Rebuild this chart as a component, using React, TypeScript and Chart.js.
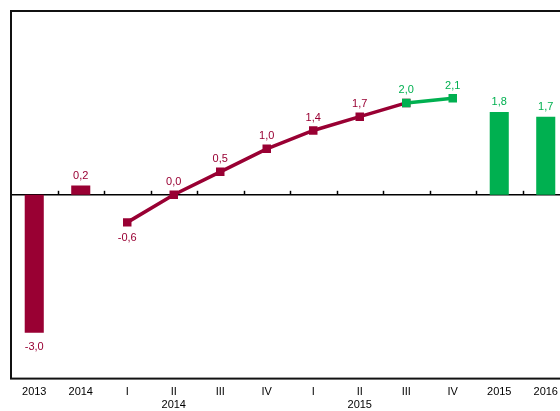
import React, { useEffect, useRef } from 'react';
import { Chart, registerables } from 'chart.js';

Chart.register(...registerables);

// Category axis: annual figures, then quarters of 2014 and 2015, then annual forecasts
const categories: (string | string[])[] = [
  '2013', '2014',
  'I', ['II', '2014'], 'III', 'IV',
  'I', ['II', '2015'], 'III', 'IV',
  '2015', '2016',
];

// Annual growth (bars)
const annualValues: (number | null)[] = [-3.0, 0.2, null, null, null, null, null, null, null, null, 1.8, 1.7];
// Index from which annual bars are forecasts
const firstForecastYearIndex = 10;

// Quarterly growth, actual (line)
const quarterlyActual: (number | null)[] = [null, null, -0.6, 0.0, 0.5, 1.0, 1.4, 1.7, 2.0, null, null, null];
// Quarterly growth, forecast (line)
const quarterlyForecast: (number | null)[] = [null, null, null, null, null, null, null, null, 2.0, 2.1, null, null];

const yMin = -4;
const yMax = 4;

const RED = '#990033';
const GREEN = '#00B050';
const FONT = "'Liberation Sans', Arial, sans-serif";

const fmt = (v: number) => v.toFixed(1).replace('.', ',');

// Chart frame, zero line and small upward ticks between categories
const framePlugin = {
  id: 'frame',
  beforeDatasetsDraw(chart: any) {
    const { ctx, chartArea, scales } = chart;
    const x = scales.x;
    const y = scales.y;
    const y0 = y.getPixelForValue(0);
    ctx.save();
    ctx.strokeStyle = '#000';
    ctx.lineWidth = 1.5;
    ctx.beginPath();
    ctx.moveTo(chartArea.left, y0);
    ctx.lineTo(chartArea.right, y0);
    ctx.stroke();
    const n = categories.length;
    for (let i = 0; i < n - 1; i++) {
      const bx = Math.round((x.getPixelForValue(i) + x.getPixelForValue(i + 1)) / 2) + 0.5;
      ctx.beginPath();
      ctx.moveTo(bx, y0);
      ctx.lineTo(bx, y0 - 4);
      ctx.stroke();
    }
    ctx.restore();
  },
  afterDatasetsDraw(chart: any) {
    const { ctx, chartArea } = chart;
    ctx.save();
    ctx.strokeStyle = '#111';
    ctx.lineWidth = 2;
    ctx.strokeRect(chartArea.left, chartArea.top, chartArea.right - chartArea.left, chartArea.bottom - chartArea.top);
    ctx.restore();
  },
};

// Value labels above (or below) each bar and point
const valueLabelPlugin = {
  id: 'valueLabels',
  afterDatasetsDraw(chart: any) {
    const { ctx } = chart;
    const done = new Set<number>();
    ctx.save();
    ctx.font = `11px ${FONT}`;
    ctx.textAlign = 'center';
    ctx.textBaseline = 'middle';
    for (const meta of chart.getSortedVisibleDatasetMetas()) {
      const ds = chart.data.datasets[meta.index];
      const isBar = meta.type === 'bar';
      meta.data.forEach((el: any, i: number) => {
        const v = ds.data[i];
        if (v === null || v === undefined || done.has(i)) return;
        done.add(i);
        const color = Array.isArray(ds.backgroundColor) ? ds.backgroundColor[i] : ds.borderColor;
        ctx.fillStyle = color;
        let ty: number;
        if (v >= 0) ty = el.y - (isBar ? 10 : 12.5);
        else ty = el.y + (isBar ? 14 : 16);
        ctx.fillText(fmt(v), el.x, ty);
      });
    }
    ctx.restore();
  },
};

export default function App() {
  const canvasRef = useRef<HTMLCanvasElement | null>(null);

  useEffect(() => {
    if (!canvasRef.current) return;
    const barColors = annualValues.map((_, i) => (i >= firstForecastYearIndex ? GREEN : RED));
    const chart = new Chart(canvasRef.current, {
      type: 'bar',
      data: {
        labels: categories,
        datasets: [
          {
            type: 'line',
            label: 'forecast',
            data: quarterlyForecast,
            borderColor: GREEN,
            backgroundColor: GREEN,
            borderWidth: 3.5,
            pointStyle: 'rect',
            pointRadius: 6,
            pointBorderWidth: 0,
            pointBackgroundColor: GREEN,
            order: 0,
          } as any,
          {
            type: 'line',
            label: 'actual',
            data: quarterlyActual,
            borderColor: RED,
            backgroundColor: RED,
            borderWidth: 3.5,
            pointStyle: 'rect',
            pointRadius: 6,
            pointBorderWidth: 0,
            pointBackgroundColor: RED,
            order: 1,
          } as any,
          {
            type: 'bar',
            label: 'annual',
            data: annualValues,
            backgroundColor: barColors,
            barPercentage: 0.41,
            categoryPercentage: 1,
            order: 2,
          } as any,
        ],
      },
      options: {
        responsive: false,
        animation: false,
        layout: { padding: { left: 11, top: 11, right: 0, bottom: -8 } },
        plugins: {
          legend: { display: false },
          tooltip: { enabled: false },
        },
        scales: {
          x: {
            grid: { display: false, drawTicks: false },
            border: { display: false },
            ticks: {
              color: '#000',
              font: { family: FONT, size: 11 },
              padding: 7,
              maxRotation: 0,
              autoSkip: false,
            },
          },
          y: {
            display: false,
            min: yMin,
            max: yMax,
          },
        },
      },
      plugins: [framePlugin, valueLabelPlugin],
    });
    return () => chart.destroy();
  }, []);

  return (
    <div style={{ position: 'fixed', left: 0, top: 0, width: 560, height: 411, overflow: 'hidden', background: '#fff' }}>
      <canvas ref={canvasRef} width={575} height={411} style={{ display: 'block' }} />
    </div>
  );
}
